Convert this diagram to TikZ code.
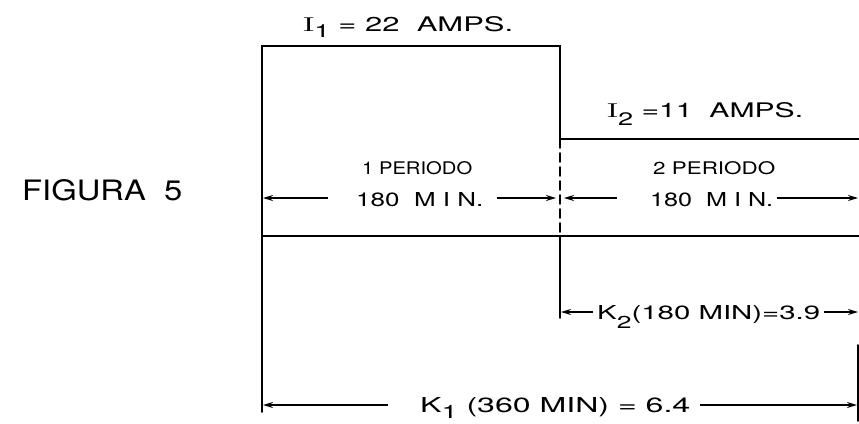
\documentclass[tikz,border=0pt]{standalone}
\usepackage{fontspec}
\usepackage{graphicx}
\newfontfamily\hand{TeX Gyre Heros}
\usetikzlibrary{arrows.meta}
\tikzset{
  ln/.style={line width=1.8pt, line cap=round},
  dimarr/.style={line width=1.5pt, -{Stealth[length=10pt,width=6pt]}},
  txt/.style={inner sep=0pt, anchor=base west}
}
\newcommand{\fitt}[3]{\resizebox{#1pt}{#2pt}{\hand #3}}
\begin{document}
\begin{tikzpicture}[x=1pt,y=-1pt]
\useasboundingbox (0,0) rectangle (859,423);
% key points
\coordinate (TL) at (262,46);
\coordinate (TM) at (560,46);
\coordinate (SM) at (560,139);
\coordinate (SR) at (859,139);
\coordinate (BL) at (262,236);
\coordinate (BM) at (560,236);
\coordinate (BR) at (859,236);
\coordinate (LL) at (262,412);
\coordinate (ML) at (560,318);
\coordinate (RT) at (858,345);
\coordinate (RB) at (858,421);
% outline
\draw[ln] (LL) -- (TL) -- (TM) -- (SM) -- (SR);
\draw[ln, dash pattern=on 9pt off 5pt] (SM) -- (BM);
\draw[ln] (BL) -- (BR);
\draw[ln] (BM) -- (ML);
\draw[ln] (RT) -- (RB);
% texts
\node[txt] (i1) at (303,31) {\fitt{210}{15}{{\rmfamily I}\raisebox{-3pt}{\small 1}\ = 22\ \ AMPS.}};
\node[txt] (i2) at (607,117) {\fitt{196}{15}{{\rmfamily I}\raisebox{-4pt}{\small 2}\ =11\ \ AMPS.}};
\node[txt] (p1) at (362,174) {\fitt{110}{13}{1\ PERIODO}};
\node[txt] (m1) at (356,206) {\fitt{127}{14}{180\ \ M I N.}};
\node[txt] (p2) at (653,174) {\fitt{122}{13}{2\ PERIODO}};
\node[txt] (m2) at (650,206) {\fitt{123}{14}{180\ \ M I N.}};
\node[txt] (k2) at (597,319) {\fitt{223}{14}{K\raisebox{-5pt}{\small 2}(180 MIN)=3.9}};
\node[txt] (k1) at (420,412) {\fitt{270}{15}{K\raisebox{-3pt}{\small 1}\ (360 MIN) = 6.4}};
\node[txt] (fig) at (22,200) {\fitt{160}{21}{FIGURA\ \ 5}};
% dimension arrows
\coordinate (a1) at (328,198); \coordinate (a1e) at (263,198);
\coordinate (a2) at (497,198); \coordinate (a2e) at (556,198);
\coordinate (a3) at (617,198); \coordinate (a3e) at (564,198);
\coordinate (a4) at (777,198); \coordinate (a4e) at (858,198);
\coordinate (b1) at (593,312); \coordinate (b1e) at (561,312);
\coordinate (b2) at (824,312); \coordinate (b2e) at (858,312);
\coordinate (c1) at (388,405); \coordinate (c1e) at (263,405);
\coordinate (c2) at (700,405); \coordinate (c2e) at (857,405);
\draw[dimarr] (a1) -- (a1e);
\draw[dimarr] (a2) -- (a2e);
\draw[dimarr] (a3) -- (a3e);
\draw[dimarr] (a4) -- (a4e);
\draw[dimarr] (b1) -- (b1e);
\draw[dimarr] (b2) -- (b2e);
\draw[dimarr] (c1) -- (c1e);
\draw[dimarr] (c2) -- (c2e);
\end{tikzpicture}
\end{document}
